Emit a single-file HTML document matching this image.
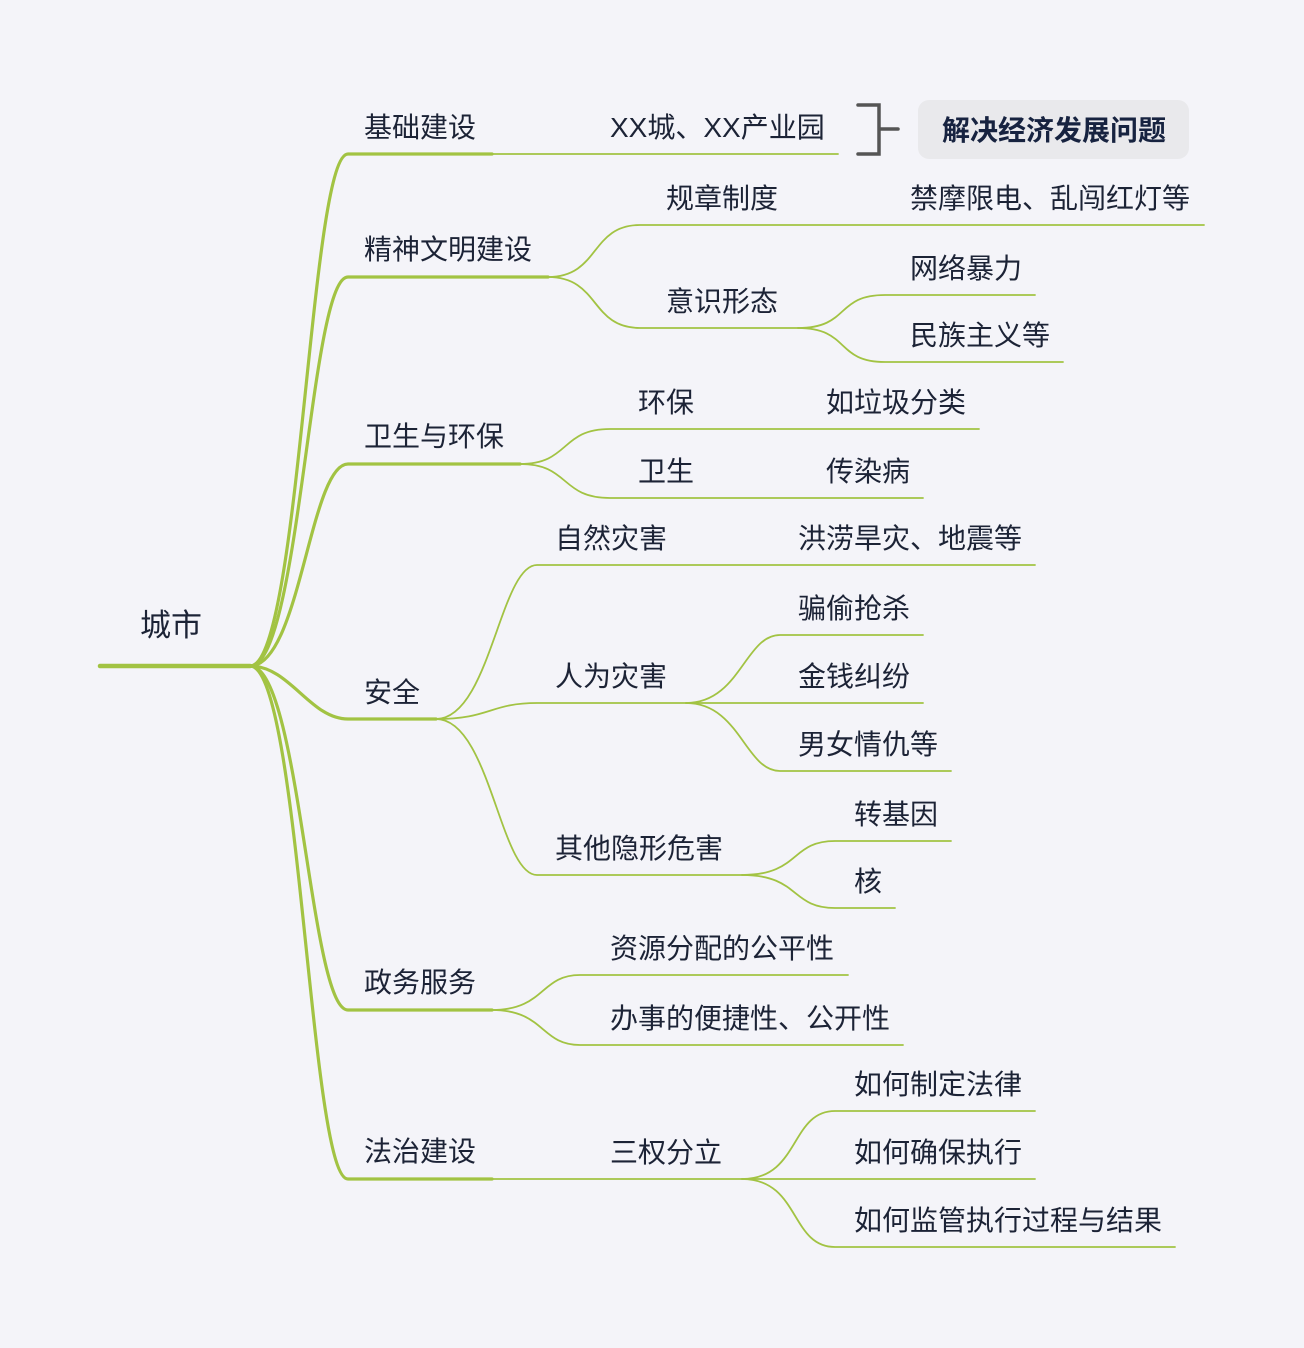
<!DOCTYPE html>
<html><head><meta charset="utf-8"><style>
html,body{margin:0;padding:0;background:#f4f4f9;}
svg{display:block}
text{font-family:"Liberation Sans","Noto Sans CJK SC",sans-serif;font-size:28px;fill:#1c2336;}
</style></head><body>
<svg width="1304" height="1348" viewBox="0 0 1304 1348" xmlns="http://www.w3.org/2000/svg">
<g fill="none" stroke="#a2c343" stroke-linecap="round">
<line x1="100" y1="666" x2="250" y2="666" stroke-width="4.5"/>
<g stroke-width="3.2">
<path d="M250 666 C300 666 310 154 348 154 L492 154"/>
<path d="M250 666 C300 666 310 277 348 277 L548 277"/>
<path d="M250 666 C300 666 310 464 348 464 L520 464"/>
<path d="M250 666 C290 666 310 719 348 719 L436 719"/>
<path d="M250 666 C300 666 310 1010 348 1010 L492 1010"/>
<path d="M250 666 C300 666 310 1179 348 1179 L492 1179"/>
</g>
<g stroke-width="1.8">
<line x1="492" y1="154" x2="838" y2="154"/>
<path d="M548 277 C600 277 590 225 640 225 L1204 225"/>
<path d="M548 277 C600 277 590 328 640 328 L798 328"/>
<path d="M798 328 C850 328 835 295 885 295 L1035 295"/>
<path d="M798 328 C850 328 835 362 885 362 L1063 362"/>
<path d="M520 464 C570 464 560 429 610 429 L979 429"/>
<path d="M520 464 C570 464 560 498 610 498 L923 498"/>
<path d="M436 719 C490 719 500 565 537 565 L1035 565"/>
<path d="M436 719 C490 719 490 703 537 703 L686 703"/>
<path d="M436 719 C490 719 500 875 537 875 L742 875"/>
<path d="M686 703 C740 703 745 635 780 635 L923 635"/>
<line x1="686" y1="703" x2="923" y2="703"/>
<path d="M686 703 C740 703 745 771 780 771 L951 771"/>
<path d="M742 875 C800 875 790 841 835 841 L951 841"/>
<path d="M742 875 C800 875 790 908 835 908 L895 908"/>
<path d="M492 1010 C545 1010 540 975 580 975 L848 975"/>
<path d="M492 1010 C545 1010 540 1045 580 1045 L903 1045"/>
<line x1="492" y1="1179" x2="742" y2="1179"/>
<path d="M742 1179 C800 1179 790 1111 835 1111 L1035 1111"/>
<line x1="742" y1="1179" x2="1035" y2="1179"/>
<path d="M742 1179 C800 1179 790 1247 835 1247 L1175 1247"/>
</g>
</g>
<path d="M858 105 L879 105 L879 154 L858 154 M879 129 L898 129" fill="none" stroke="#555" stroke-width="3.5" stroke-linecap="round"/>
<rect x="918" y="100" width="271" height="59" rx="11" fill="#e9e9ec"/>
<text x="942" y="140" style="font-weight:bold;fill:#172340">解决经济发展问题</text>
<text x="140" y="636" style="font-size:31px">城市</text>
<text x="364" y="137">基础建设</text>
<text x="610" y="137">XX城、XX产业园</text>
<text x="364" y="259">精神文明建设</text>
<text x="666" y="208">规章制度</text>
<text x="910" y="208">禁摩限电、乱闯红灯等</text>
<text x="666" y="311">意识形态</text>
<text x="910" y="278">网络暴力</text>
<text x="910" y="345">民族主义等</text>
<text x="364" y="446">卫生与环保</text>
<text x="638" y="412">环保</text>
<text x="826" y="412">如垃圾分类</text>
<text x="638" y="481">卫生</text>
<text x="826" y="481">传染病</text>
<text x="364" y="702">安全</text>
<text x="555" y="548">自然灾害</text>
<text x="798" y="548">洪涝旱灾、地震等</text>
<text x="555" y="686">人为灾害</text>
<text x="798" y="618">骗偷抢杀</text>
<text x="798" y="686">金钱纠纷</text>
<text x="798" y="754">男女情仇等</text>
<text x="555" y="858">其他隐形危害</text>
<text x="854" y="824">转基因</text>
<text x="854" y="891">核</text>
<text x="364" y="992">政务服务</text>
<text x="610" y="958">资源分配的公平性</text>
<text x="610" y="1028">办事的便捷性、公开性</text>
<text x="364" y="1161">法治建设</text>
<text x="610" y="1162">三权分立</text>
<text x="854" y="1094">如何制定法律</text>
<text x="854" y="1162">如何确保执行</text>
<text x="854" y="1230">如何监管执行过程与结果</text>
</svg>
</body></html>
